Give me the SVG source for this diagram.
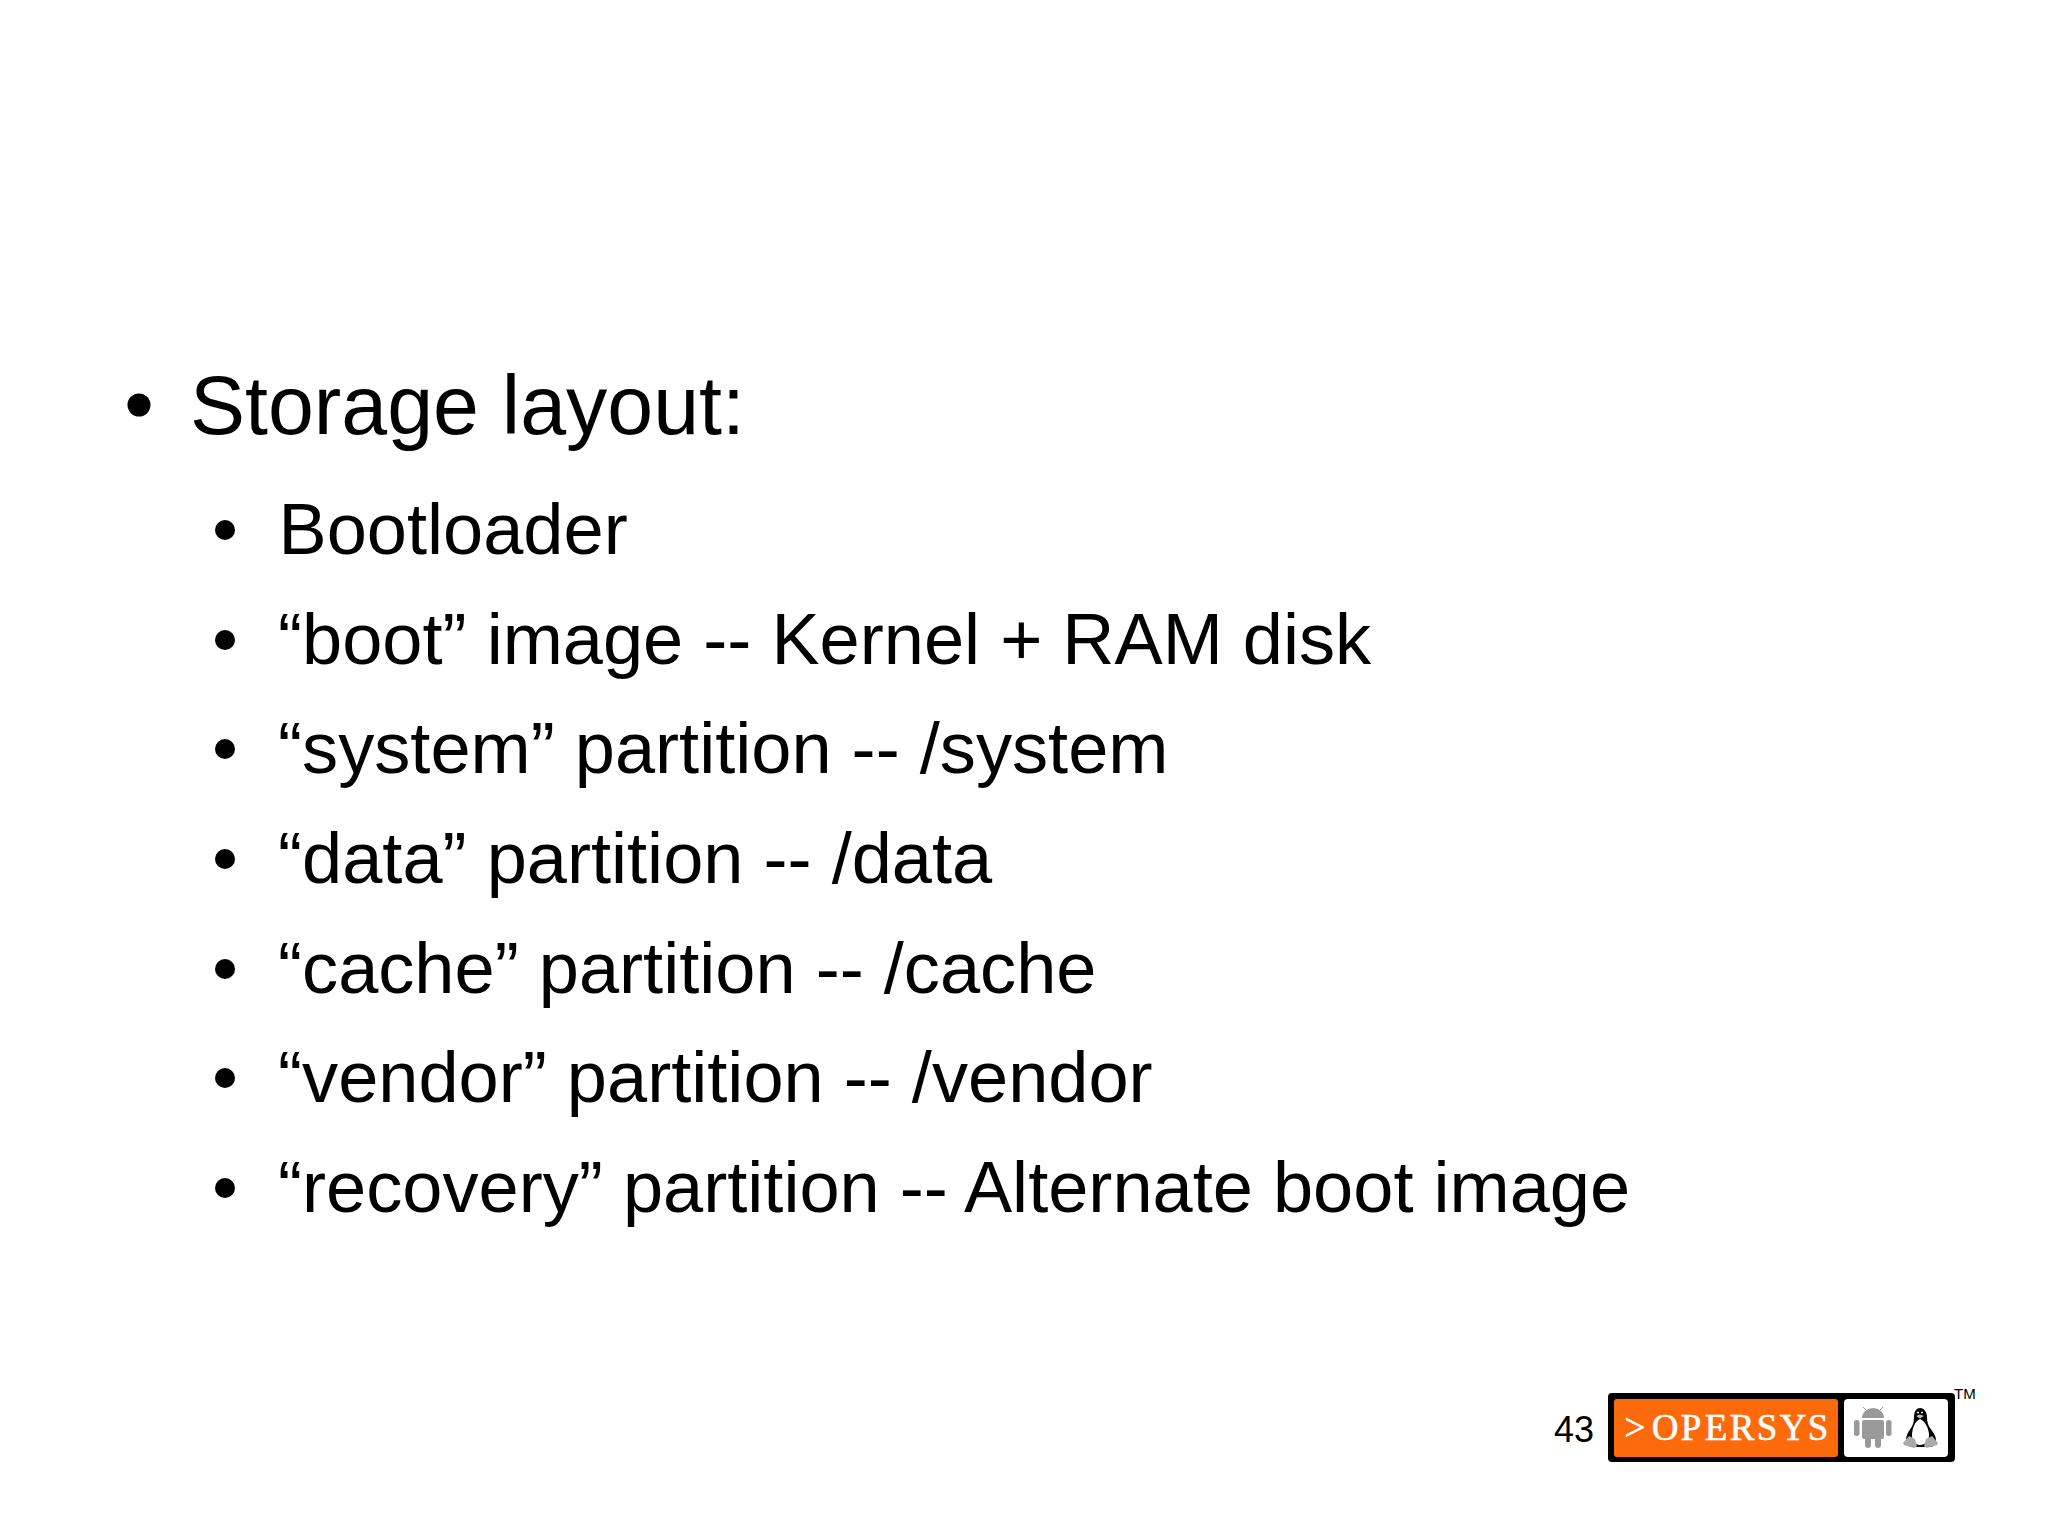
<svg xmlns="http://www.w3.org/2000/svg" width="2048" height="1535" viewBox="0 0 2048 1535">
<style>
text{font-family:"Liberation Sans",Arial,sans-serif;fill:#000}
.l1{font-size:82.5px}
.l2{font-size:72.2px}
.bl{fill:#000}
.droid{fill:#999}
.tm{font-size:15px}
.num{font-size:36px}
.brand{font-family:"Liberation Serif",serif;font-size:37px;fill:#fff;stroke:#fff;stroke-width:.6px;text-anchor:middle}
</style>
<rect width="2048" height="1535" fill="#fff"/>
<g id="bullets">
<circle class="bl" cx="139" cy="405" r="11.5"/>
<text class="l1" x="190" y="434">Storage layout:</text>
<circle class="bl" cx="225" cy="530" r="10"/>
<text class="l2" x="278.5" y="553.5">Bootloader</text>
<circle class="bl" cx="225" cy="640" r="10"/>
<text class="l2" x="278" y="663.5">“boot” image -- Kernel + RAM disk</text>
<circle class="bl" cx="225" cy="749" r="10"/>
<text class="l2" x="278" y="773">“system” partition -- /system</text>
<circle class="bl" cx="225" cy="859" r="10"/>
<text class="l2" x="278" y="882.7">“data” partition -- /data</text>
<circle class="bl" cx="225" cy="969" r="10"/>
<text class="l2" x="278" y="992.5">“cache” partition -- /cache</text>
<circle class="bl" cx="225" cy="1078" r="10"/>
<text class="l2" x="278" y="1102.3">“vendor” partition -- /vendor</text>
<circle class="bl" cx="225" cy="1188" r="10"/>
<text class="l2" x="278" y="1212">“recovery” partition -- Alternate boot image</text>
</g>
<text class="num" x="1554" y="1441.5">43</text>
<g id="logo">
<rect x="1608" y="1393" width="347" height="69" rx="4" fill="#000"/>
<rect x="1614" y="1399" width="224" height="58" rx="3" fill="#fd6a0c"/>
<rect x="1844" y="1399" width="104" height="58" rx="4" fill="#fff"/>
<text class="brand" x="1635 1665 1691 1716 1742 1767 1793 1818" y="1440">&gt;OPERSYS</text>
<g id="android" class="droid">
<path d="M1862 1418a11 10 0 0 1 22 0z"/>
<rect x="1862" y="1420" width="22" height="19" rx="2"/>
<rect x="1854" y="1420" width="5.5" height="16" rx="2.7"/>
<rect x="1886" y="1420" width="5.5" height="16" rx="2.7"/>
<rect x="1865" y="1437" width="6" height="11" rx="3"/>
<rect x="1875" y="1437" width="6" height="11" rx="3"/>
<path d="M1866 1410l-3-3M1880 1410l3-3" stroke="#999" stroke-width="1"/>
</g>
<g id="tux">
<path d="M1920 1408c-4 0-6 4-6 9c0 5-1 8-3 11c-3 4-5 8-5 12c0 5 3 7 6 7h18c3 0 6-2 6-7c0-4-3-8-6-12c-2-3-3-6-3-11c0-5-3-9-7-9z" fill="#000"/>
<path d="M1920 1419c-5 2-8 10-8 16c0 6 3 10 8 10c5 0 9-4 9-10c0-6-4-14-9-16z" fill="#fff"/>
<path d="M1909 1436l-6 7l1 2l10 3l3-2l-2-7zM1932 1436l6 7l-1 2l-10 3l-3-2l2-7z" fill="#aaa"/>
<path d="M1916 1416l4-1.500l4 1.500l-4 2.500z" fill="#bbb"/>
<circle cx="1918" cy="1412.500" r="1.100" fill="#ddd"/>
<circle cx="1922" cy="1412.500" r="1.100" fill="#ddd"/>
</g>
</g>
<text class="tm" x="1954" y="1399">TM</text>
</svg>
